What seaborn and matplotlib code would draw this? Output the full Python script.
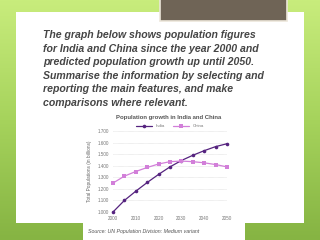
import numpy as np
import pandas as pd
import matplotlib
matplotlib.use('Agg')
import matplotlib.pyplot as plt
from matplotlib.patches import Rectangle
import seaborn as sns

# Data
years = [2000, 2005, 2010, 2015, 2020, 2025, 2030, 2035, 2040, 2045, 2050]
india = [1.000, 1.100, 1.180, 1.255, 1.325, 1.390, 1.445, 1.490, 1.530, 1.565, 1.590]
china = [1.250, 1.310, 1.350, 1.385, 1.415, 1.435, 1.440, 1.435, 1.425, 1.410, 1.390]
y_ticks = [1.0, 1.1, 1.2, 1.3, 1.4, 1.5, 1.6, 1.7]
y_labels = ['1.000', '1.100', '1.200', '1.300', '1.400', '1.500', '1.600', '1.700']
x_ticks = [2000, 2010, 2020, 2030, 2040, 2050]

prompt_lines = [
    'The graph below shows population figures',
    'for India and China since the year 2000 and',
    'predicted population growth up until 2050.',
    'Summarise the information by selecting and',
    'reporting the main features, and make',
    'comparisons where relevant.',
]
prompt_y = [35, 48.5, 62, 76, 89.5, 103]

df = pd.DataFrame({
    'year': years * 2,
    'pop': india + china,
    'country': ['India'] * len(years) + ['China'] * len(years),
})

sns.set_style('white')
plt.rcParams['font.family'] = ['Liberation Sans', 'DejaVu Sans']

W, H = 320, 240
fig = plt.figure(figsize=(W / 100, H / 100), dpi=100)

def fx(x):
    return x / W

def fy(y):
    return 1 - y / H

# slide background
bg = fig.add_axes([0, 0, 1, 1])
bg.set_xlim(0, W)
bg.set_ylim(H, 0)
bg.axis('off')
grad = np.linspace(0, 1, 100)[:, None]
green = matplotlib.colors.LinearSegmentedColormap.from_list('g', ['#c8ec7c', '#a6d35c', '#86b443'])
bg.imshow(grad, cmap=green, aspect='auto', extent=[0, W, H, 0], zorder=0)
bg.add_patch(Rectangle((16, 12), 288, 211, facecolor='white', edgecolor='none', zorder=1))
bg.add_patch(Rectangle((83, 215), 162, 30, facecolor='white', edgecolor='none', zorder=1))
bg.add_patch(Rectangle((160, -2), 127, 23, facecolor='#6f6456', edgecolor='#ece6da', lw=1.2, zorder=2))

for txt, yy in zip(prompt_lines, prompt_y):
    fig.text(fx(43), fy(yy), txt, fontsize=7.6, fontweight='bold', fontstyle='italic',
             color='#454545', va='center', ha='left')

fig.text(fx(169), fy(117), 'Population growth in India and China', fontsize=4.3,
         fontweight='bold', color='#555555', ha='center', va='center')
fig.text(fx(88), fy(232), 'Source: UN Population Division: Medium variant', fontsize=3.8,
         fontstyle='italic', color='#555555', ha='left', va='center')

# chart
ax = fig.add_axes([fx(113), fy(212), fx(227) - fx(113), (212 - 131) / H])
pal = {'India': '#55237f', 'China': '#d27fd9'}
sns.lineplot(data=df, x='year', y='pop', hue='country', style='country',
             markers={'India': 'o', 'China': 's'}, dashes=False, palette=pal,
             hue_order=['India', 'China'], style_order=['India', 'China'],
             markersize=2.6, markeredgewidth=0, linewidth=0.9, ax=ax, clip_on=False)
ax.set_xlim(2000, 2050)
ax.set_ylim(1.0, 1.7)
ax.set_xticks(x_ticks)
ax.set_yticks(y_ticks)
ax.set_yticklabels(y_labels)
ax.tick_params(labelsize=3.3, colors='#777777', length=0, pad=3)
ax.set_xlabel('')
ax.set_ylabel('Total Populations (in billions)', fontsize=3.4, color='#666666', labelpad=4)
ax.grid(axis='y', color='#cccccc', linestyle=(0, (1, 1)), linewidth=0.4)
for s in ax.spines.values():
    s.set_visible(False)
ax.legend(loc='lower center', bbox_to_anchor=(0.5, 1.0), ncol=2, frameon=False,
          fontsize=3.2, handlelength=3.5, columnspacing=2.0, borderaxespad=0.2,
          labelcolor='#777777')
ax.set_facecolor('none')

fig.savefig('out.png', dpi=100)
